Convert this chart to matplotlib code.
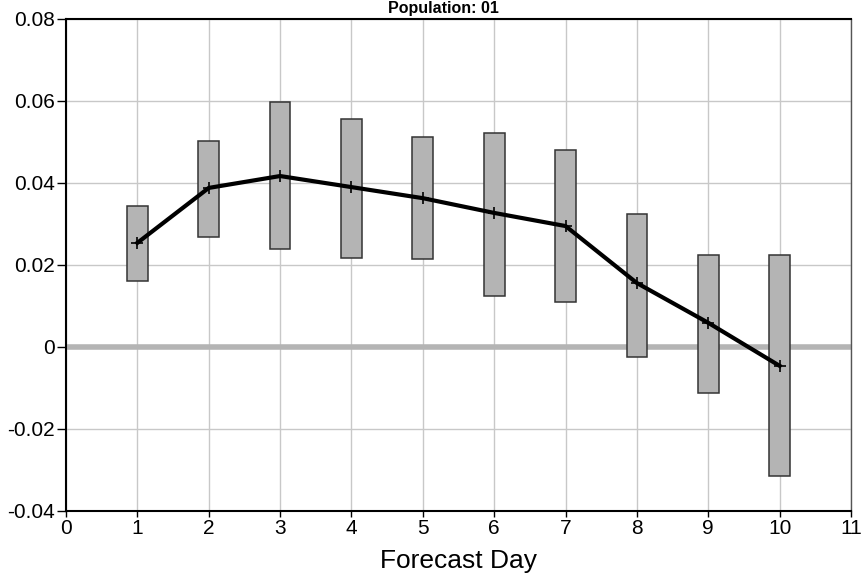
import matplotlib
matplotlib.use("Agg")
import matplotlib.pyplot as plt
from matplotlib.patches import Rectangle

days = [1, 2, 3, 4, 5, 6, 7, 8, 9, 10]
mean_vals = [0.0254, 0.0388, 0.0417, 0.0390, 0.0363, 0.0327, 0.0295, 0.0156, 0.0059, -0.0046]
box_top = [0.0344, 0.0502, 0.0598, 0.0556, 0.0512, 0.0522, 0.0480, 0.0324, 0.0224, 0.0224]
box_bot = [0.0161, 0.0268, 0.0239, 0.0217, 0.0215, 0.0124, 0.0110, -0.0024, -0.0112, -0.0315]
x_ticks = list(range(0, 12))
y_ticks = [-0.04, -0.02, 0, 0.02, 0.04, 0.06, 0.08]
y_labels = ["-0.04", "-0.02", "0", "0.02", "0.04", "0.06", "0.08"]

plt.rcParams['font.family'] = ['Liberation Sans', 'DejaVu Sans']

fig = plt.figure(figsize=(8.61, 5.74), dpi=100)
ax = fig.add_axes([66/861, 1-511/574, (851-66)/861, (511-19)/574])
ax.set_xlim(0, 11)
ax.set_ylim(-0.04, 0.08)

ax.set_xticks(x_ticks)
ax.set_yticks(y_ticks)
ax.set_yticklabels(y_labels)
ax.grid(True, color="#c8c8c8", lw=1)
ax.set_axisbelow(True)
ax.axhline(0, color="#b4b4b4", lw=4, zorder=1)

w = 0.29
for d, t, b in zip(days, box_top, box_bot):
    ax.add_patch(Rectangle((d - w/2, b), w, t - b, facecolor="#b4b4b4",
                           edgecolor="#333333", lw=1.1, zorder=2))

ax.plot(days, mean_vals, color="black", lw=3, marker="+", ms=9,
        mew=1.2, zorder=3)

for s in ["left", "bottom", "top"]:
    ax.spines[s].set_color("black")
    ax.spines[s].set_linewidth(1.5)
ax.spines["right"].set_color("#555555")
ax.spines["right"].set_linewidth(1)

ax.tick_params(axis="y", labelsize=15, direction="out", length=6.5, width=1, pad=1.5)
ax.tick_params(axis="x", labelsize=15, direction="out", length=4, width=1, pad=2)
ax.set_xlabel("Forecast Day", fontsize=19, labelpad=8)

fig.text(0.515, 1.0 - 0.5/574, "Population: 01", ha="center", va="top",
         fontsize=11.5, fontweight="bold")

fig.savefig("out.png", dpi=100)
